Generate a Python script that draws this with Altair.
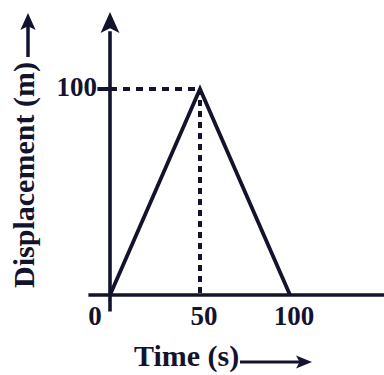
import altair as alt
import pandas as pd

# Displacement-time graph: out to 100 m in 50 s and back in another 50 s
time_s = [0, 50, 100]
displacement_m = [0, 100, 0]

x_tick_values = [0, 50, 100]
x_tick_labels = ["0", "50", "100"]
y_tick_values = [100]
y_tick_labels = ["100"]

peak_time = 50
peak_disp = 100

INK = "#13132e"
FONT = "Liberation Serif"

# pixel placement of the data range inside the 384x375 canvas
xs = alt.Scale(domain=[0, 100], range=[110, 290])
ys = alt.Scale(domain=[0, 100], range=[295, 89])

ARROW_UP = "M0,-1 L0.9,1 L0,0.55 L-0.9,1 Z"
ARROW_RIGHT = "M1,0 L-1,0.8 L-0.55,0 L-1,-0.8 Z"

graph = pd.DataFrame({"t": time_s, "d": displacement_m})

line = alt.Chart(graph).mark_line(
    color=INK, strokeWidth=3.8, strokeJoin="miter"
).encode(
    x=alt.X("t:Q", scale=xs, axis=None),
    y=alt.Y("d:Q", scale=ys, axis=None),
)

# axis lines
x_axis = alt.Chart(pd.DataFrame({"x0": [-12], "x1": [153], "y": [0]})).mark_rule(
    color=INK, strokeWidth=3.6
).encode(
    x=alt.X("x0:Q", scale=xs, axis=None), x2="x1:Q",
    y=alt.Y("y:Q", scale=ys, axis=None),
)
y_axis = alt.Chart(pd.DataFrame({"x": [0], "y0": [-8], "y1": [128]})).mark_rule(
    color=INK, strokeWidth=3.6
).encode(
    x=alt.X("x:Q", scale=xs, axis=None),
    y=alt.Y("y0:Q", scale=ys, axis=None), y2="y1:Q",
)
y_axis_head = alt.Chart(pd.DataFrame({"x": [0], "y": [132.3]})).mark_point(
    shape=ARROW_UP, filled=True, fill=INK, opacity=1, strokeWidth=0, size=441
).encode(
    x=alt.X("x:Q", scale=xs, axis=None),
    y=alt.Y("y:Q", scale=ys, axis=None),
)

# tick mark at 100 m
y_tick = alt.Chart(pd.DataFrame({"x0": [-7], "x1": [0], "y": y_tick_values})).mark_rule(
    color=INK, strokeWidth=4
).encode(
    x=alt.X("x0:Q", scale=xs, axis=None), x2="x1:Q",
    y=alt.Y("y:Q", scale=ys, axis=None),
)

# dashed guides to the peak
h_guide = alt.Chart(pd.DataFrame({"x0": [0], "x1": [peak_time], "y": [peak_disp]})).mark_rule(
    color=INK, strokeWidth=4, strokeDash=[7, 6], strokeCap="butt"
).encode(
    x=alt.X("x0:Q", scale=xs, axis=None), x2="x1:Q",
    y=alt.Y("y:Q", scale=ys, axis=None),
)
v_guide = alt.Chart(pd.DataFrame({"x": [peak_time], "y0": [peak_disp], "y1": [0]})).mark_rule(
    color=INK, strokeWidth=4, strokeDash=[6, 5], strokeCap="butt"
).encode(
    x=alt.X("x:Q", scale=xs, axis=None),
    y=alt.Y("y0:Q", scale=ys, axis=None), y2="y1:Q",
)

label_style = dict(font=FONT, fontWeight="bold", fontSize=27, color=INK)

x_labels_df = pd.DataFrame({"v": x_tick_values, "lab": x_tick_labels})
x_zero_label = alt.Chart(x_labels_df.iloc[:1]).mark_text(
    align="center", baseline="alphabetic", dx=-15, **label_style
).encode(
    x=alt.X("v:Q", scale=xs, axis=None), y=alt.value(325), text="lab:N"
)
x_other_labels = alt.Chart(x_labels_df.iloc[1:]).mark_text(
    align="center", baseline="alphabetic", dx=4, **label_style
).encode(
    x=alt.X("v:Q", scale=xs, axis=None), y=alt.value(325), text="lab:N"
)
y_labels = alt.Chart(pd.DataFrame({"v": y_tick_values, "lab": y_tick_labels})).mark_text(
    align="right", baseline="alphabetic", dx=-13, dy=7, **label_style
).encode(
    x=alt.value(110), y=alt.Y("v:Q", scale=ys, axis=None), text="lab:N"
)

# axis titles with their arrows
title_style = dict(font=FONT, fontWeight="bold", fontSize=30, color=INK)
x_title = alt.Chart(pd.DataFrame({"t": ["Time (s)"]})).mark_text(
    align="left", baseline="alphabetic", **title_style
).encode(x=alt.value(134), y=alt.value(366), text="t:N")
x_title_shaft = alt.Chart(pd.DataFrame({"a": [0]})).mark_rule(
    color=INK, strokeWidth=3
).encode(x=alt.value(240), x2=alt.value(302), y=alt.value(362))
x_title_head = alt.Chart(pd.DataFrame({"a": [0]})).mark_point(
    shape=ARROW_RIGHT, filled=True, fill=INK, opacity=1, strokeWidth=0, size=256
).encode(x=alt.value(304), y=alt.value(362))

y_title = alt.Chart(pd.DataFrame({"t": ["Displacement (m)"]})).mark_text(
    align="center", baseline="alphabetic", angle=270, **title_style
).encode(x=alt.value(34), y=alt.value(175), text="t:N")
y_title_shaft = alt.Chart(pd.DataFrame({"a": [0]})).mark_rule(
    color=INK, strokeWidth=3.5
).encode(x=alt.value(28), y=alt.value(57), y2=alt.value(26))
y_title_head = alt.Chart(pd.DataFrame({"a": [0]})).mark_point(
    shape=ARROW_UP, filled=True, fill=INK, opacity=1, strokeWidth=0, size=289
).encode(x=alt.value(28), y=alt.value(21.5))

chart = alt.layer(
    h_guide, v_guide, x_axis, y_axis, y_axis_head, y_tick, line,
    x_zero_label, x_other_labels, y_labels,
    x_title, x_title_shaft, x_title_head,
    y_title, y_title_shaft, y_title_head,
).properties(
    width=384, height=375, autosize="none", padding=0, background="white"
).configure_view(stroke=None)

chart.save("out.html", embed_options={"renderer": "svg", "actions": False})
